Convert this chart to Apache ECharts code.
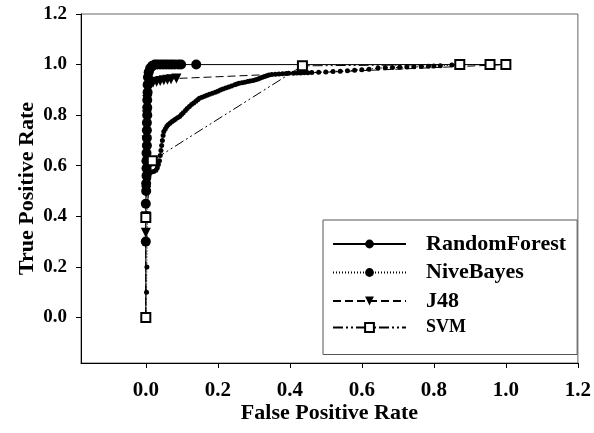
<!DOCTYPE html>
<html><head><meta charset="utf-8">
<script src="https://cdn.jsdelivr.net/npm/echarts@6/dist/echarts.min.js"></script>
<style>html,body{margin:0;padding:0;background:#fff}#c{width:594px;height:433px}</style>
</head><body><div id="c"></div>
<script>
const xTicks = [0, 0.2, 0.4, 0.6, 0.8, 1.0, 1.2];
const yTicks = [0, 0.2, 0.4, 0.6, 0.8, 1.0, 1.2];
const seriesNames = ['RandomForest', 'NiveBayes', 'J48', 'SVM'];

const rfFpr = [0, 0, 0, 0.001, 0.001, 0.002, 0.002, 0.002, 0.002, 0.003, 0.003, 0.003, 0.003, 0.004, 0.004, 0.004, 0.005, 0.005, 0.006, 0.008, 0.012, 0.018, 0.025, 0.032, 0.04, 0.048, 0.056, 0.064, 0.072, 0.08, 0.09, 0.098, 0.14, 1.0];
const rfTpr = [0, 0.30, 0.45, 0.50, 0.53, 0.56, 0.59, 0.62, 0.65, 0.68, 0.71, 0.74, 0.77, 0.80, 0.83, 0.86, 0.89, 0.92, 0.95, 0.97, 0.985, 0.995, 1.0, 1.0, 1.0, 1.0, 1.0, 1.0, 1.0, 1.0, 1.0, 1.0, 1.0, 1.0];

const nbFpr = [0, 0.002, 0.003, 0.004, 0.005, 0.006, 0.008, 0.011, 0.016, 0.022, 0.028, 0.032, 0.035, 0.038, 0.040, 0.042, 0.044, 0.046, 0.048, 0.050, 0.054, 0.058, 0.062, 0.067, 0.072, 0.077, 0.082, 0.088, 0.094, 0.099, 0.104, 0.110, 0.115, 0.121, 0.127, 0.133, 0.139, 0.144, 0.149, 0.156, 0.163, 0.170, 0.177, 0.185, 0.193, 0.200, 0.207, 0.214, 0.222, 0.230, 0.238, 0.247, 0.253, 0.259, 0.267, 0.275, 0.283, 0.290, 0.298, 0.305, 0.312, 0.318, 0.324, 0.330, 0.336, 0.342, 0.350, 0.360, 0.370, 0.380, 0.390, 0.397, 0.410, 0.420, 0.430, 0.440, 0.450, 0.461, 0.480, 0.500, 0.520, 0.540, 0.560, 0.580, 0.600, 0.620, 0.645, 0.665, 0.685, 0.705, 0.725, 0.745, 0.765, 0.785, 0.800, 0.818, 0.850, 0.880, 1.0];
const nbTpr = [0, 0.1, 0.2, 0.3, 0.4, 0.5, 0.55, 0.571, 0.575, 0.577, 0.582, 0.592, 0.605, 0.62, 0.64, 0.66, 0.68, 0.70, 0.72, 0.735, 0.745, 0.755, 0.762, 0.768, 0.774, 0.779, 0.784, 0.79, 0.795, 0.803, 0.81, 0.818, 0.826, 0.834, 0.842, 0.848, 0.855, 0.861, 0.867, 0.871, 0.875, 0.879, 0.883, 0.887, 0.891, 0.895, 0.899, 0.903, 0.907, 0.911, 0.915, 0.92, 0.923, 0.926, 0.928, 0.93, 0.933, 0.935, 0.937, 0.94, 0.943, 0.947, 0.95, 0.953, 0.956, 0.959, 0.961, 0.962, 0.963, 0.964, 0.965, 0.966, 0.966, 0.967, 0.967, 0.968, 0.968, 0.969, 0.970, 0.971, 0.973, 0.974, 0.976, 0.978, 0.980, 0.982, 0.986, 0.987, 0.988, 0.989, 0.990, 0.991, 0.992, 0.993, 0.994, 0.995, 0.998, 1.0, 1.0];

const j48Fpr = [0, 0, 0, 0.001, 0.001, 0.002, 0.003, 0.004, 0.006, 0.01, 0.015, 0.02, 0.03, 0.04, 0.05, 0.06, 0.07, 0.085, 1.0];
const j48Tpr = [0, 0.335, 0.40, 0.5, 0.6, 0.7, 0.8, 0.86, 0.9, 0.92, 0.925, 0.928, 0.932, 0.935, 0.938, 0.94, 0.942, 0.945, 1.0];

const svmFpr = [0, 0, 0.018, 0.435, 0.872, 0.956, 1.0];
const svmTpr = [0, 0.395, 0.62, 0.995, 1.0, 1.0, 1.0];

const zip = (a, b) => a.map((v, i) => [v, b[i]]);
const font = 'Liberation Serif';

const chart = echarts.init(document.getElementById('c'), null, {renderer: 'canvas'});
chart.setOption({
  animation: false,
  backgroundColor: '#fff',
  grid: {left: 81, right: 12, top: 14, bottom: 70, show: true, borderColor: '#666', borderWidth: 1},
  xAxis: {
    type: 'value', min: -0.18, max: 1.2,
    name: 'False Positive Rate', nameLocation: 'middle', nameGap: 39, nameMoveOverlap: false,
    nameTextStyle: {fontFamily: font, fontWeight: 'bold', fontSize: 22, color: '#000'},
    axisLine: {onZero: false, lineStyle: {color: '#000', width: 1}},
    axisTick: {show: true, length: 5, lineStyle: {color: '#000'}, customValues: xTicks},
    axisLabel: {customValues: xTicks, margin: 17, fontFamily: font, fontWeight: 'bold', fontSize: 21, color: '#000', formatter: v => v.toFixed(1)},
    splitLine: {show: false}
  },
  yAxis: {
    type: 'value', min: -0.18, max: 1.2,
    name: 'True Positive Rate', nameLocation: 'middle', nameGap: 43, nameMoveOverlap: false,
    nameTextStyle: {fontFamily: font, fontWeight: 'bold', fontSize: 22, color: '#000'},
    axisLine: {onZero: false, lineStyle: {color: '#000', width: 1}},
    axisTick: {show: true, length: 5, lineStyle: {color: '#000'}, customValues: yTicks},
    axisLabel: {customValues: yTicks, margin: 14, fontFamily: font, fontWeight: 'bold', fontSize: 19, color: '#000', formatter: v => v.toFixed(1)},
    splitLine: {show: false}
  },
  legend: {
    orient: 'vertical', left: 323, top: 220,
    padding: [13, 11, 18, 9], itemGap: 6.5,
    itemWidth: 73, itemHeight: 11,
    borderColor: '#555', borderWidth: 1, backgroundColor: '#fff',
    textStyle: {fontFamily: font, fontWeight: 'bold', fontSize: 22, color: '#000', padding: [0, 0, 0, 15]},
    data: [
      {name: seriesNames[0]},
      {name: seriesNames[1]},
      {name: seriesNames[2]},
      {name: seriesNames[3], textStyle: {fontSize: 18}}
    ]
  },
  series: [
    {name: seriesNames[0], type: 'line', data: zip(rfFpr, rfTpr), symbol: 'circle', symbolSize: 10,
      itemStyle: {color: '#000'}, lineStyle: {color: '#000', width: 1, type: 'solid'}, z: 2},
    {name: seriesNames[1], type: 'line', data: zip(nbFpr, nbTpr), symbol: 'circle', symbolSize: 5,
      itemStyle: {color: '#000'}, lineStyle: {color: '#000', width: 1, type: [1, 2]}, z: 3},
    {name: seriesNames[2], type: 'line', data: zip(j48Fpr, j48Tpr), symbol: 'triangle', symbolSize: 10, symbolRotate: 180,
      itemStyle: {color: '#000'}, lineStyle: {color: '#000', width: 1, type: [8, 4]}, z: 4},
    {name: seriesNames[3], type: 'line', data: zip(svmFpr, svmTpr), symbol: 'emptyRect', symbolSize: 9,
      itemStyle: {color: '#000', borderWidth: 1}, lineStyle: {color: '#000', width: 1, type: [10, 3, 2, 3, 2, 3]}, z: 5}
  ]
});
</script>
</body></html>
